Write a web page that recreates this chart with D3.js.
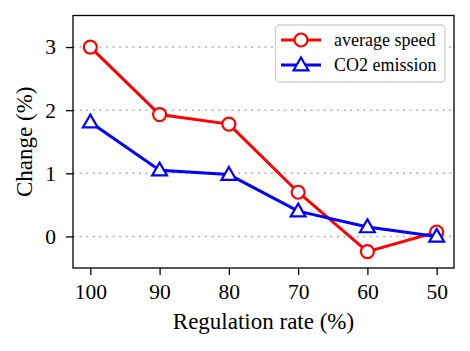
<!DOCTYPE html>
<html>
<head>
<meta charset="utf-8">
<script src="https://cdn.jsdelivr.net/npm/d3@7"></script>
<style>
  body { margin: 0; background: #fff; }
</style>
</head>
<body>
<div id="chart"></div>
<script>
// data
var rates = [100, 90, 80, 70, 60, 50];
var speedChange = [3.0, 1.93, 1.78, 0.70, -0.24, 0.07];
var co2Change = [1.81, 1.05, 0.98, 0.40, 0.15, 0.0];
var yTicks = [0, 1, 2, 3];
var seriesNames = ["average speed", "CO2 emission"];

var serif = '"Liberation Serif", "Times New Roman", serif';
var width = 470, height = 351;
var margin = {left: 73, right: 16, top: 15.5, bottom: 83};

var svg = d3.select("#chart").append("svg")
  .attr("width", width)
  .attr("height", height)
  .style("font-family", serif);

var x = d3.scaleLinear().domain([102.5, 47.5]).range([margin.left, width - margin.right]);
var y = d3.scaleLinear().domain([-0.5, 3.5]).range([height - margin.bottom, margin.top]);

// grid
svg.append("g").selectAll("line")
  .data(yTicks).enter().append("line")
  .attr("x1", x.range()[0]).attr("x2", x.range()[1])
  .attr("y1", d => y(d)).attr("y2", d => y(d))
  .attr("stroke", "#b0b0b0")
  .attr("stroke-width", 1.5)
  .attr("stroke-dasharray", "2,4.6");

// axes
var xAxis = svg.append("g")
  .attr("transform", "translate(0," + y.range()[0] + ")")
  .call(d3.axisBottom(x).tickValues(rates).tickFormat(d3.format("d")).tickSize(7).tickPadding(9));
var yAxis = svg.append("g")
  .attr("transform", "translate(" + x.range()[0] + ",0)")
  .call(d3.axisLeft(y).tickValues(yTicks).tickFormat(d3.format("d")).tickSize(7).tickPadding(10));
[xAxis, yAxis].forEach(function(a) {
  a.attr("font-family", null).attr("font-size", 21.5);
  a.select(".domain").remove();
  a.selectAll("line").attr("stroke", "#000").attr("stroke-width", 1.3);
  a.selectAll("text").attr("fill", "#000");
});

// frame
svg.append("rect")
  .attr("x", x.range()[0]).attr("y", y.range()[1])
  .attr("width", x.range()[1] - x.range()[0])
  .attr("height", y.range()[0] - y.range()[1])
  .attr("fill", "none").attr("stroke", "#000").attr("stroke-width", 1.3);

// labels
svg.append("text")
  .attr("x", (x.range()[0] + x.range()[1]) / 2)
  .attr("y", 329)
  .attr("text-anchor", "middle")
  .attr("font-size", 23)
  .text("Regulation rate (%)");
svg.append("text")
  .attr("transform", "translate(32," + ((y.range()[0] + y.range()[1]) / 2) + ") rotate(-90)")
  .attr("text-anchor", "middle")
  .attr("font-size", 23)
  .text("Change (%)");

var line = d3.line().x((d, i) => x(rates[i])).y(d => y(d));
var tri = d3.symbol().type(d3.symbolTriangle).size(95);

function drawSeries(vals, color, marker) {
  svg.append("path").datum(vals)
    .attr("d", line)
    .attr("fill", "none").attr("stroke", color).attr("stroke-width", 3);
  var g = svg.append("g");
  vals.forEach(function(v, i) {
    drawMarker(g, x(rates[i]), y(v), color, marker);
  });
}

function drawMarker(g, cx, cy, color, marker) {
  if (marker === "circle") {
    g.append("circle").attr("cx", cx).attr("cy", cy).attr("r", 6.5)
      .attr("fill", "#fff").attr("stroke", color).attr("stroke-width", 2.2);
  } else {
    g.append("path").attr("d", tri)
      .attr("transform", "translate(" + cx + "," + (cy + 1) + ")")
      .attr("fill", "#fff").attr("stroke", color).attr("stroke-width", 2.2);
  }
}

drawSeries(speedChange, "#ff0000", "circle");
drawSeries(co2Change, "#0000ff", "triangle");

// legend
var leg = svg.append("g");
leg.append("rect")
  .attr("x", 275.5).attr("y", 25).attr("width", 169.5).attr("height", 57)
  .attr("rx", 4)
  .attr("fill", "#fff").attr("fill-opacity", 0.8)
  .attr("stroke", "#d0d0d0").attr("stroke-width", 1.3);
var legItems = [
  {name: seriesNames[0], color: "#ff0000", marker: "circle", y: 40},
  {name: seriesNames[1], color: "#0000ff", marker: "triangle", y: 65}
];
legItems.forEach(function(it) {
  leg.append("line").attr("x1", 281).attr("x2", 321)
    .attr("y1", it.y).attr("y2", it.y)
    .attr("stroke", it.color).attr("stroke-width", 3);
  drawMarker(leg, 301, it.y, it.color, it.marker);
  leg.append("text").attr("x", 334).attr("y", it.y + 6)
    .attr("font-size", 18).text(it.name);
});
</script>
</body>
</html>
